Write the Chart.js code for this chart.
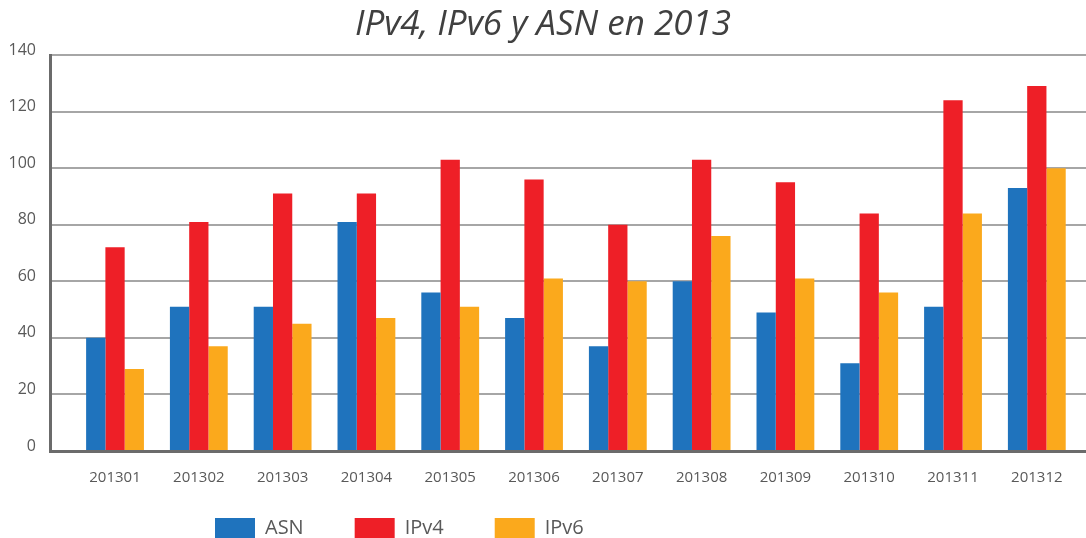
<!DOCTYPE html>
<html>
<head>
<meta charset="utf-8">
<script src="https://cdn.jsdelivr.net/npm/chart.js@4"></script>
<style>
  html, body { margin: 0; padding: 0; background: #fff; }
  #wrap { width: 1086px; height: 538px; }
</style>
</head>
<body>
<div id="wrap"><canvas id="chart" width="1086" height="538"></canvas></div>
<script>
const MONTHS = ['201301', '201302', '201303', '201304', '201305', '201306',
                '201307', '201308', '201309', '201310', '201311', '201312'];
const ASN  = [40, 51, 51, 81, 56, 47, 37, 60, 49, 31, 51, 93];
const IPV4 = [72, 81, 91, 91, 103, 96, 80, 103, 95, 84, 124, 129];
const IPV6 = [29, 37, 45, 47, 51, 61, 60, 76, 61, 56, 84, 100];
const Y_TICKS = [0, 20, 40, 60, 80, 100, 120, 140];

// ───────────────────────────────────────────────────────────────────────────

const FONT = "'Open Sans', 'DejaVu Sans', sans-serif";
const GREY = '#595959';

const points = arr => arr.map((y, i) => ({ x: i, y }));

// put the legend at the lower left like in the original picture
const legendPlace = {
  id: 'legendPlace',
  afterLayout(chart) {
    const lg = chart.legend;
    const pad = lg.options.labels.padding;
    const w = lg.right - lg.left;
    lg.left = 215 - pad;
    lg.right = lg.left + w;
    lg.top = 518 - pad;
  }
};

new Chart(document.getElementById('chart'), {
  type: 'bar',
  data: {
    datasets: [
      { label: 'ASN',  data: points(ASN),  backgroundColor: '#1F73BD' },
      { label: 'IPv4', data: points(IPV4), backgroundColor: '#EE1F27' },
      { label: 'IPv6', data: points(IPV6), backgroundColor: '#FBA91C' },
    ]
  },
  options: {
    responsive: false,
    animation: false,
    layout: { padding: 0 },
    datasets: { bar: { categoryPercentage: 0.69, barPercentage: 1.0, borderWidth: 0 } },
    plugins: {
      title: {
        display: true,
        text: 'IPv4, IPv6 y ASN en 2013',
        color: '#404040',
        font: { family: FONT, size: 35, style: 'italic', weight: 'normal', lineHeight: 1.2 },
        padding: { top: 4, bottom: 9 }
      },
      legend: {
        position: 'bottom',
        align: 'start',
        maxHeight: 35,
        labels: {
          boxWidth: 40,
          boxHeight: 21,
          padding: 51,
          color: GREY,
          font: { family: FONT, size: 20 }
        }
      },
      tooltip: { enabled: false }
    },
    scales: {
      x: {
        type: 'linear',
        offset: false,
        min: -0.776,
        max: 11.587,
        grid: { display: false, drawTicks: false },
        border: { display: true, color: '#6b6b6b', width: 3 },
        afterFit: s => { s.height = 52; },
        ticks: {
          stepSize: 1,
          includeBounds: false,
          padding: 18,
          color: GREY,
          font: { family: FONT, size: 15 },
          callback: v => MONTHS[v] ?? ''
        }
      },
      y: {
        min: Y_TICKS[0],
        max: Y_TICKS[Y_TICKS.length - 1],
        afterFit: s => { s.width = 50; },
        grid: { color: '#a6a6a6', lineWidth: 2, drawTicks: false },
        border: { display: true, color: '#6b6b6b', width: 3 },
        ticks: {
          stepSize: 20,
          padding: 14,
          labelOffset: -5,
          color: GREY,
          font: { family: FONT, size: 16 }
        }
      }
    }
  },
  plugins: [legendPlace]
});
</script>
</body>
</html>
